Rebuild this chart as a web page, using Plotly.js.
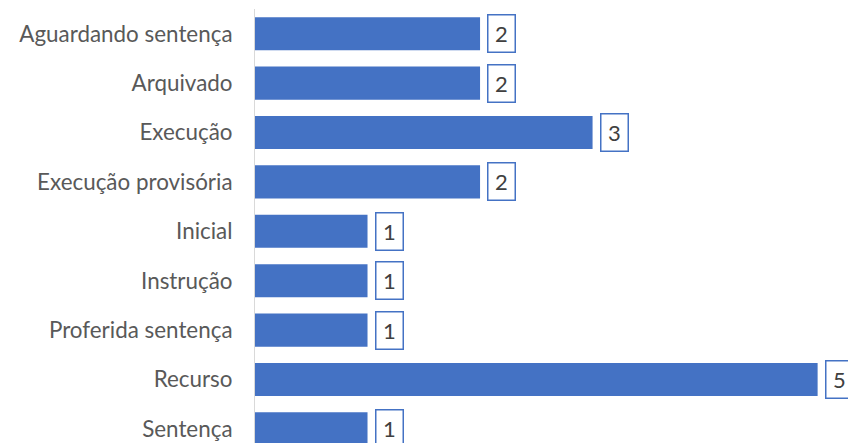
<!DOCTYPE html>
<html>
<head>
<meta charset="utf-8">
<script src="https://cdn.plot.ly/plotly-3.0.1.min.js"></script>
<style>html,body{margin:0;padding:0;background:#fff;}#chart{width:848px;height:443px;}</style>
</head>
<body>
<div id="chart"></div>
<script>
const categories = ["Aguardando sentença", "Arquivado", "Execução", "Execução provisória", "Inicial", "Instrução", "Proferida sentença", "Recurso", "Sentença"];
const values = [2, 2, 3, 2, 1, 1, 1, 5, 1];
const valueLabels = values.map(String);

const barColor = "#4472C4";
const fontFamily = "Lato, 'Open Sans', sans-serif";

const annotations = categories.map((c, i) => ({
  x: values[i], y: c, xref: "x", yref: "y",
  text: valueLabels[i], showarrow: false,
  xanchor: "left", yanchor: "middle", xshift: 7,
  font: {family: fontFamily, size: 22, color: "#404040"},
  bordercolor: barColor, borderwidth: 1.5, borderpad: 1,
  bgcolor: "#ffffff", width: 24, height: 34, align: "center"
}));

Plotly.newPlot("chart", [{
  type: "bar", orientation: "h",
  x: values, y: categories,
  marker: {color: barColor},
  hoverinfo: "none"
}], {
  width: 848, height: 443,
  margin: {l: 255, r: 0, t: 9, b: 0, pad: 0},
  paper_bgcolor: "#fff", plot_bgcolor: "#fff",
  bargap: 0.33,
  showlegend: false,
  xaxis: {range: [0, 5.27], showgrid: false, zeroline: false, showticklabels: false, showline: false, ticks: ""},
  yaxis: {type: "category", range: [8.285, -0.5], showgrid: false, zeroline: false,
    showline: true, linecolor: "#D9D9D9", linewidth: 1, ticks: "", ticklabelstandoff: 17,
    tickfont: {family: fontFamily, size: 22.4, color: "#595959"}},
  annotations: annotations
}, {staticPlot: true, displayModeBar: false});
</script>
</body>
</html>
